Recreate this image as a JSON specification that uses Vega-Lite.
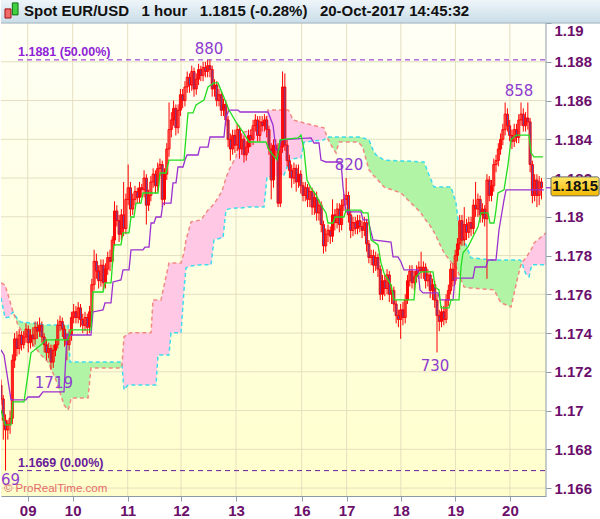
{
  "$schema": "https://vega.github.io/schema/vega-lite/v6.json",
  "width": 545,
  "height": 496,
  "padding": 0,
  "background": "#ffffff",
  "config": {"view": {"stroke": null}, "font": "Liberation Sans"},
  "datasets": {
    "one": [{}],
    "candles": [
      {"t":0,"o":1.1713,"h":1.1716,"l":1.1703,"c":1.1706},{"t":1,"o":1.1706,"h":1.1708,"l":1.1685,"c":1.1695},{"t":2,"o":1.1695,"h":1.1698,"l":1.1669,"c":1.1690},{"t":3,"o":1.1690,"h":1.1695,"l":1.1685,"c":1.1693},{"t":4,"o":1.1693,"h":1.1700,"l":1.1688,"c":1.1696},
      {"t":5,"o":1.1696,"h":1.1729,"l":1.1693,"c":1.1726},{"t":6,"o":1.1726,"h":1.1740,"l":1.1722,"c":1.1737},{"t":7,"o":1.1737,"h":1.1741,"l":1.1728,"c":1.1732},{"t":8,"o":1.1732,"h":1.1742,"l":1.1729,"c":1.1739},{"t":9,"o":1.1739,"h":1.1741,"l":1.1731,"c":1.1734},
      {"t":10,"o":1.1734,"h":1.1741,"l":1.1732,"c":1.1738},{"t":11,"o":1.1738,"h":1.1745,"l":1.1735,"c":1.1742},{"t":12,"o":1.1742,"h":1.1744,"l":1.1730,"c":1.1735},{"t":13,"o":1.1735,"h":1.1742,"l":1.1732,"c":1.1739},{"t":14,"o":1.1739,"h":1.1743,"l":1.1733,"c":1.1737},
      {"t":15,"o":1.1737,"h":1.1746,"l":1.1734,"c":1.1743},{"t":16,"o":1.1743,"h":1.1746,"l":1.1737,"c":1.1741},{"t":17,"o":1.1741,"h":1.1748,"l":1.1738,"c":1.1744},{"t":18,"o":1.1744,"h":1.1746,"l":1.1735,"c":1.1738},{"t":19,"o":1.1738,"h":1.1740,"l":1.1730,"c":1.1734},
      {"t":20,"o":1.1734,"h":1.1737,"l":1.1726,"c":1.1730},{"t":21,"o":1.1730,"h":1.1735,"l":1.1727,"c":1.1732},{"t":22,"o":1.1732,"h":1.1734,"l":1.1721,"c":1.1725},{"t":23,"o":1.1725,"h":1.1734,"l":1.1722,"c":1.1731},{"t":24,"o":1.1731,"h":1.1737,"l":1.1728,"c":1.1734},
      {"t":25,"o":1.1734,"h":1.1747,"l":1.1732,"c":1.1744},{"t":26,"o":1.1744,"h":1.1749,"l":1.1741,"c":1.1746},{"t":27,"o":1.1746,"h":1.1748,"l":1.1738,"c":1.1742},{"t":28,"o":1.1742,"h":1.1744,"l":1.1733,"c":1.1737},{"t":29,"o":1.1737,"h":1.1740,"l":1.1726,"c":1.1734},
      {"t":30,"o":1.1734,"h":1.1742,"l":1.1731,"c":1.1739},{"t":31,"o":1.1739,"h":1.1751,"l":1.1736,"c":1.1748},{"t":32,"o":1.1748,"h":1.1755,"l":1.1745,"c":1.1751},{"t":33,"o":1.1751,"h":1.1754,"l":1.1745,"c":1.1748},{"t":34,"o":1.1748,"h":1.1756,"l":1.1745,"c":1.1753},
      {"t":35,"o":1.1753,"h":1.1755,"l":1.1743,"c":1.1747},{"t":36,"o":1.1747,"h":1.1750,"l":1.1740,"c":1.1744},{"t":37,"o":1.1744,"h":1.1751,"l":1.1741,"c":1.1748},{"t":38,"o":1.1748,"h":1.1750,"l":1.1739,"c":1.1743},{"t":39,"o":1.1743,"h":1.1754,"l":1.1740,"c":1.1751},
      {"t":40,"o":1.1751,"h":1.1768,"l":1.1748,"c":1.1765},{"t":41,"o":1.1765,"h":1.1783,"l":1.1762,"c":1.1777},{"t":42,"o":1.1777,"h":1.1781,"l":1.1768,"c":1.1772},{"t":43,"o":1.1772,"h":1.1775,"l":1.1763,"c":1.1767},{"t":44,"o":1.1767,"h":1.1778,"l":1.1764,"c":1.1775},
      {"t":45,"o":1.1775,"h":1.1778,"l":1.1762,"c":1.1766},{"t":46,"o":1.1766,"h":1.1776,"l":1.1763,"c":1.1773},{"t":47,"o":1.1773,"h":1.1782,"l":1.1770,"c":1.1779},{"t":48,"o":1.1779,"h":1.1783,"l":1.1772,"c":1.1777},{"t":49,"o":1.1777,"h":1.1790,"l":1.1774,"c":1.1788},
      {"t":50,"o":1.1788,"h":1.1808,"l":1.1785,"c":1.1803},{"t":51,"o":1.1803,"h":1.1806,"l":1.1795,"c":1.1798},{"t":52,"o":1.1798,"h":1.1801,"l":1.1787,"c":1.1791},{"t":53,"o":1.1791,"h":1.1804,"l":1.1788,"c":1.1801},{"t":54,"o":1.1801,"h":1.1818,"l":1.1790,"c":1.1794},
      {"t":55,"o":1.1794,"h":1.1812,"l":1.1791,"c":1.1809},{"t":56,"o":1.1809,"h":1.1827,"l":1.1806,"c":1.1815},{"t":57,"o":1.1815,"h":1.1818,"l":1.1800,"c":1.1804},{"t":58,"o":1.1804,"h":1.1812,"l":1.1801,"c":1.1809},{"t":59,"o":1.1809,"h":1.1816,"l":1.1806,"c":1.1813},
      {"t":60,"o":1.1813,"h":1.1815,"l":1.1807,"c":1.1810},{"t":61,"o":1.1810,"h":1.1818,"l":1.1807,"c":1.1815},{"t":62,"o":1.1815,"h":1.1817,"l":1.1810,"c":1.1814},{"t":63,"o":1.1814,"h":1.1824,"l":1.1810,"c":1.1820},{"t":64,"o":1.1820,"h":1.1822,"l":1.1796,"c":1.1806},
      {"t":65,"o":1.1806,"h":1.1814,"l":1.1803,"c":1.1811},{"t":66,"o":1.1811,"h":1.1821,"l":1.1808,"c":1.1818},{"t":67,"o":1.1818,"h":1.1825,"l":1.1815,"c":1.1822},{"t":68,"o":1.1822,"h":1.1824,"l":1.1812,"c":1.1816},{"t":69,"o":1.1816,"h":1.1828,"l":1.1813,"c":1.1825},
      {"t":70,"o":1.1825,"h":1.1830,"l":1.1821,"c":1.1827},{"t":71,"o":1.1827,"h":1.1829,"l":1.1805,"c":1.1809},{"t":72,"o":1.1809,"h":1.1825,"l":1.1806,"c":1.1822},{"t":73,"o":1.1822,"h":1.1838,"l":1.1819,"c":1.1835},{"t":74,"o":1.1835,"h":1.1859,"l":1.1831,"c":1.1845},
      {"t":75,"o":1.1845,"h":1.1854,"l":1.1841,"c":1.1850},{"t":76,"o":1.1850,"h":1.1860,"l":1.1847,"c":1.1856},{"t":77,"o":1.1856,"h":1.1858,"l":1.1842,"c":1.1846},{"t":78,"o":1.1846,"h":1.1858,"l":1.1843,"c":1.1855},{"t":79,"o":1.1855,"h":1.1866,"l":1.1852,"c":1.1863},
      {"t":80,"o":1.1863,"h":1.1866,"l":1.1856,"c":1.1860},{"t":81,"o":1.1860,"h":1.1870,"l":1.1857,"c":1.1867},{"t":82,"o":1.1867,"h":1.1875,"l":1.1864,"c":1.1872},{"t":83,"o":1.1872,"h":1.1874,"l":1.1864,"c":1.1868},{"t":84,"o":1.1868,"h":1.1878,"l":1.1865,"c":1.1875},
      {"t":85,"o":1.1875,"h":1.1877,"l":1.1862,"c":1.1866},{"t":86,"o":1.1866,"h":1.1874,"l":1.1863,"c":1.1871},{"t":87,"o":1.1871,"h":1.1879,"l":1.1868,"c":1.1876},{"t":88,"o":1.1876,"h":1.1878,"l":1.1870,"c":1.1873},{"t":89,"o":1.1873,"h":1.1880,"l":1.1870,"c":1.1877},
      {"t":90,"o":1.1877,"h":1.1880,"l":1.1872,"c":1.1875},{"t":91,"o":1.1875,"h":1.1881,"l":1.1872,"c":1.1878},{"t":92,"o":1.1878,"h":1.1881,"l":1.1872,"c":1.1876},{"t":93,"o":1.1876,"h":1.1878,"l":1.1862,"c":1.1866},{"t":94,"o":1.1866,"h":1.1871,"l":1.1862,"c":1.1868},
      {"t":95,"o":1.1868,"h":1.1870,"l":1.1857,"c":1.1860},{"t":96,"o":1.1860,"h":1.1866,"l":1.1857,"c":1.1863},{"t":97,"o":1.1863,"h":1.1865,"l":1.1852,"c":1.1855},{"t":98,"o":1.1855,"h":1.1861,"l":1.1852,"c":1.1858},{"t":99,"o":1.1858,"h":1.1860,"l":1.1847,"c":1.1850},
      {"t":100,"o":1.1850,"h":1.1852,"l":1.1836,"c":1.1840},{"t":101,"o":1.1840,"h":1.1843,"l":1.1829,"c":1.1835},{"t":102,"o":1.1835,"h":1.1845,"l":1.1832,"c":1.1842},{"t":103,"o":1.1842,"h":1.1845,"l":1.1833,"c":1.1837},{"t":104,"o":1.1837,"h":1.1848,"l":1.1834,"c":1.1845},
      {"t":105,"o":1.1845,"h":1.1847,"l":1.1830,"c":1.1835},{"t":106,"o":1.1835,"h":1.1843,"l":1.1832,"c":1.1840},{"t":107,"o":1.1840,"h":1.1842,"l":1.1828,"c":1.1832},{"t":108,"o":1.1832,"h":1.1839,"l":1.1829,"c":1.1836},{"t":109,"o":1.1836,"h":1.1845,"l":1.1833,"c":1.1842},
      {"t":110,"o":1.1842,"h":1.1845,"l":1.1836,"c":1.1840},{"t":111,"o":1.1840,"h":1.1850,"l":1.1837,"c":1.1847},{"t":112,"o":1.1847,"h":1.1853,"l":1.1844,"c":1.1850},{"t":113,"o":1.1850,"h":1.1852,"l":1.1839,"c":1.1842},{"t":114,"o":1.1842,"h":1.1852,"l":1.1839,"c":1.1849},
      {"t":115,"o":1.1849,"h":1.1852,"l":1.1844,"c":1.1847},{"t":116,"o":1.1847,"h":1.1853,"l":1.1844,"c":1.1850},{"t":117,"o":1.1850,"h":1.1852,"l":1.1841,"c":1.1845},{"t":118,"o":1.1845,"h":1.1847,"l":1.1832,"c":1.1835},{"t":119,"o":1.1835,"h":1.1838,"l":1.1809,"c":1.1819},
      {"t":120,"o":1.1819,"h":1.1840,"l":1.1815,"c":1.1837},{"t":121,"o":1.1837,"h":1.1840,"l":1.1830,"c":1.1835},{"t":122,"o":1.1835,"h":1.1838,"l":1.1805,"c":1.1807},{"t":123,"o":1.1807,"h":1.1840,"l":1.1805,"c":1.1836},{"t":124,"o":1.1836,"h":1.1875,"l":1.1833,"c":1.1867},
      {"t":125,"o":1.1867,"h":1.1874,"l":1.1834,"c":1.1837},{"t":126,"o":1.1837,"h":1.1840,"l":1.1826,"c":1.1829},{"t":127,"o":1.1829,"h":1.1832,"l":1.1820,"c":1.1824},{"t":128,"o":1.1824,"h":1.1827,"l":1.1815,"c":1.1820},{"t":129,"o":1.1820,"h":1.1828,"l":1.1817,"c":1.1825},
      {"t":130,"o":1.1825,"h":1.1827,"l":1.1813,"c":1.1818},{"t":131,"o":1.1818,"h":1.1827,"l":1.1815,"c":1.1822},{"t":132,"o":1.1822,"h":1.1824,"l":1.1812,"c":1.1816},{"t":133,"o":1.1816,"h":1.1818,"l":1.1808,"c":1.1811},{"t":134,"o":1.1811,"h":1.1818,"l":1.1808,"c":1.1815},
      {"t":135,"o":1.1815,"h":1.1817,"l":1.1805,"c":1.1809},{"t":136,"o":1.1809,"h":1.1816,"l":1.1805,"c":1.1813},{"t":137,"o":1.1813,"h":1.1815,"l":1.1801,"c":1.1805},{"t":138,"o":1.1805,"h":1.1813,"l":1.1801,"c":1.1810},{"t":139,"o":1.1810,"h":1.1813,"l":1.1798,"c":1.1802},
      {"t":140,"o":1.1802,"h":1.1809,"l":1.1798,"c":1.1806},{"t":141,"o":1.1806,"h":1.1808,"l":1.1792,"c":1.1796},{"t":142,"o":1.1796,"h":1.1798,"l":1.1781,"c":1.1785},{"t":143,"o":1.1785,"h":1.1794,"l":1.1782,"c":1.1791},{"t":144,"o":1.1791,"h":1.1796,"l":1.1787,"c":1.1793},
      {"t":145,"o":1.1793,"h":1.1795,"l":1.1786,"c":1.1790},{"t":146,"o":1.1790,"h":1.1809,"l":1.1787,"c":1.1801},{"t":147,"o":1.1801,"h":1.1804,"l":1.1793,"c":1.1797},{"t":148,"o":1.1797,"h":1.1807,"l":1.1794,"c":1.1804},{"t":149,"o":1.1804,"h":1.1807,"l":1.1792,"c":1.1796},
      {"t":150,"o":1.1796,"h":1.1809,"l":1.1793,"c":1.1806},{"t":151,"o":1.1806,"h":1.1812,"l":1.1803,"c":1.1809},{"t":152,"o":1.1809,"h":1.1820,"l":1.1806,"c":1.1811},{"t":153,"o":1.1811,"h":1.1813,"l":1.1797,"c":1.1801},{"t":154,"o":1.1801,"h":1.1803,"l":1.1789,"c":1.1793},
      {"t":155,"o":1.1793,"h":1.1800,"l":1.1790,"c":1.1797},{"t":156,"o":1.1797,"h":1.1800,"l":1.1791,"c":1.1794},{"t":157,"o":1.1794,"h":1.1801,"l":1.1791,"c":1.1798},{"t":158,"o":1.1798,"h":1.1801,"l":1.1792,"c":1.1795},{"t":159,"o":1.1795,"h":1.1798,"l":1.1789,"c":1.1793},
      {"t":160,"o":1.1793,"h":1.1800,"l":1.1790,"c":1.1797},{"t":161,"o":1.1797,"h":1.1799,"l":1.1782,"c":1.1786},{"t":162,"o":1.1786,"h":1.1788,"l":1.1776,"c":1.1779},{"t":163,"o":1.1779,"h":1.1783,"l":1.1775,"c":1.1780},{"t":164,"o":1.1780,"h":1.1783,"l":1.1771,"c":1.1775},
      {"t":165,"o":1.1775,"h":1.1782,"l":1.1772,"c":1.1779},{"t":166,"o":1.1779,"h":1.1781,"l":1.1769,"c":1.1773},{"t":167,"o":1.1773,"h":1.1775,"l":1.1757,"c":1.1760},{"t":168,"o":1.1760,"h":1.1770,"l":1.1757,"c":1.1767},{"t":169,"o":1.1767,"h":1.1770,"l":1.1759,"c":1.1763},
      {"t":170,"o":1.1763,"h":1.1773,"l":1.1760,"c":1.1770},{"t":171,"o":1.1770,"h":1.1772,"l":1.1756,"c":1.1760},{"t":172,"o":1.1760,"h":1.1765,"l":1.1755,"c":1.1762},{"t":173,"o":1.1762,"h":1.1764,"l":1.1751,"c":1.1755},{"t":174,"o":1.1755,"h":1.1757,"l":1.1745,"c":1.1749},
      {"t":175,"o":1.1749,"h":1.1752,"l":1.1743,"c":1.1747},{"t":176,"o":1.1747,"h":1.1755,"l":1.1737,"c":1.1752},{"t":177,"o":1.1752,"h":1.1756,"l":1.1744,"c":1.1748},{"t":178,"o":1.1748,"h":1.1760,"l":1.1745,"c":1.1757},{"t":179,"o":1.1757,"h":1.1770,"l":1.1755,"c":1.1767},
      {"t":180,"o":1.1767,"h":1.1775,"l":1.1764,"c":1.1772},{"t":181,"o":1.1772,"h":1.1775,"l":1.1763,"c":1.1766},{"t":182,"o":1.1766,"h":1.1772,"l":1.1762,"c":1.1769},{"t":183,"o":1.1769,"h":1.1775,"l":1.1766,"c":1.1772},{"t":184,"o":1.1772,"h":1.1777,"l":1.1768,"c":1.1774},
      {"t":185,"o":1.1774,"h":1.1782,"l":1.1768,"c":1.1772},{"t":186,"o":1.1772,"h":1.1777,"l":1.1768,"c":1.1774},{"t":187,"o":1.1774,"h":1.1776,"l":1.1763,"c":1.1767},{"t":188,"o":1.1767,"h":1.1773,"l":1.1764,"c":1.1770},{"t":189,"o":1.1770,"h":1.1772,"l":1.1758,"c":1.1762},
      {"t":190,"o":1.1762,"h":1.1768,"l":1.1757,"c":1.1765},{"t":191,"o":1.1765,"h":1.1767,"l":1.1753,"c":1.1757},{"t":192,"o":1.1757,"h":1.1760,"l":1.1730,"c":1.1749},{"t":193,"o":1.1749,"h":1.1752,"l":1.1741,"c":1.1746},{"t":194,"o":1.1746,"h":1.1754,"l":1.1743,"c":1.1751},
      {"t":195,"o":1.1751,"h":1.1754,"l":1.1744,"c":1.1747},{"t":196,"o":1.1747,"h":1.1760,"l":1.1745,"c":1.1757},{"t":197,"o":1.1757,"h":1.1765,"l":1.1754,"c":1.1762},{"t":198,"o":1.1762,"h":1.1776,"l":1.1760,"c":1.1773},{"t":199,"o":1.1773,"h":1.1776,"l":1.1764,"c":1.1767},
      {"t":200,"o":1.1767,"h":1.1783,"l":1.1765,"c":1.1780},{"t":201,"o":1.1780,"h":1.1789,"l":1.1777,"c":1.1786},{"t":202,"o":1.1786,"h":1.1801,"l":1.1783,"c":1.1798},{"t":203,"o":1.1798,"h":1.1801,"l":1.1785,"c":1.1788},{"t":204,"o":1.1788,"h":1.1805,"l":1.1785,"c":1.1796},
      {"t":205,"o":1.1796,"h":1.1799,"l":1.1788,"c":1.1792},{"t":206,"o":1.1792,"h":1.1800,"l":1.1789,"c":1.1797},{"t":207,"o":1.1797,"h":1.1800,"l":1.1790,"c":1.1794},{"t":208,"o":1.1794,"h":1.1809,"l":1.1791,"c":1.1806},{"t":209,"o":1.1806,"h":1.1818,"l":1.1800,"c":1.1804},
      {"t":210,"o":1.1804,"h":1.1812,"l":1.1800,"c":1.1809},{"t":211,"o":1.1809,"h":1.1811,"l":1.1797,"c":1.1801},{"t":212,"o":1.1801,"h":1.1807,"l":1.1797,"c":1.1804},{"t":213,"o":1.1804,"h":1.1806,"l":1.1795,"c":1.1799},{"t":214,"o":1.1799,"h":1.1822,"l":1.1768,"c":1.1819},
      {"t":215,"o":1.1819,"h":1.1821,"l":1.1808,"c":1.1811},{"t":216,"o":1.1811,"h":1.1819,"l":1.1808,"c":1.1816},{"t":217,"o":1.1816,"h":1.1830,"l":1.1813,"c":1.1827},{"t":218,"o":1.1827,"h":1.1832,"l":1.1823,"c":1.1829},{"t":219,"o":1.1829,"h":1.1838,"l":1.1826,"c":1.1835},
      {"t":220,"o":1.1835,"h":1.1843,"l":1.1832,"c":1.1840},{"t":221,"o":1.1840,"h":1.1848,"l":1.1837,"c":1.1845},{"t":222,"o":1.1845,"h":1.1859,"l":1.1842,"c":1.1853},{"t":223,"o":1.1853,"h":1.1856,"l":1.1844,"c":1.1847},{"t":224,"o":1.1847,"h":1.1850,"l":1.1839,"c":1.1842},
      {"t":225,"o":1.1842,"h":1.1845,"l":1.1835,"c":1.1839},{"t":226,"o":1.1839,"h":1.1848,"l":1.1836,"c":1.1845},{"t":227,"o":1.1845,"h":1.1848,"l":1.1838,"c":1.1841},{"t":228,"o":1.1841,"h":1.1853,"l":1.1838,"c":1.1850},{"t":229,"o":1.1850,"h":1.1859,"l":1.1847,"c":1.1853},
      {"t":230,"o":1.1853,"h":1.1856,"l":1.1844,"c":1.1847},{"t":231,"o":1.1847,"h":1.1854,"l":1.1844,"c":1.1851},{"t":232,"o":1.1851,"h":1.1859,"l":1.1845,"c":1.1849},{"t":233,"o":1.1849,"h":1.1851,"l":1.1823,"c":1.1827},{"t":234,"o":1.1827,"h":1.1829,"l":1.1807,"c":1.1811},
      {"t":235,"o":1.1811,"h":1.1822,"l":1.1808,"c":1.1819},{"t":236,"o":1.1819,"h":1.1822,"l":1.1805,"c":1.1811},{"t":237,"o":1.1811,"h":1.1821,"l":1.1806,"c":1.1818},{"t":238,"o":1.1818,"h":1.1820,"l":1.1809,"c":1.1815}
    ],
    "cloud": [
      {"t":0,"a":1.17581,"b":1.17659,"g":"p1","k":"pink"},{"t":1.76,"a":1.17478,"b":1.17648,"g":"p1","k":"pink"},{"t":3.52,"a":1.17483,"b":1.17581,"g":"p1","k":"pink"},{"t":5.28,"a":1.17509,"b":1.17509,"g":"p1","k":"pink"},
      {"t":5.28,"a":1.17509,"b":1.17509,"g":"g1","k":"green"},{"t":7.49,"a":1.17468,"b":1.17442,"g":"g1","k":"green"},{"t":8.81,"a":1.17457,"b":1.17416,"g":"g1","k":"green"},{"t":13.21,"a":1.17452,"b":1.17354,"g":"g1","k":"green"},{"t":17.61,"a":1.17447,"b":1.17287,"g":"g1","k":"green"},{"t":18.94,"a":1.17442,"b":1.17272,"g":"g1","k":"green"},{"t":20.7,"a":1.17442,"b":1.17251,"g":"g1","k":"green"},{"t":24.22,"a":1.17442,"b":1.17158,"g":"g1","k":"green"},{"t":27.74,"a":1.17442,"b":1.17029,"g":"g1","k":"green"},{"t":29.5,"a":1.17442,"b":1.17003,"g":"g1","k":"green"},{"t":30.39,"a":1.17251,"b":1.17034,"g":"g1","k":"green"},{"t":30.83,"a":1.17251,"b":1.17065,"g":"g1","k":"green"},{"t":38.31,"a":1.17251,"b":1.17065,"g":"g1","k":"green"},{"t":39.63,"a":1.17251,"b":1.1722,"g":"g1","k":"green"},{"t":52.84,"a":1.17251,"b":1.1722,"g":"g1","k":"green"},{"t":53.28,"a":1.17236,"b":1.17236,"g":"g1","k":"green"},
      {"t":53.28,"a":1.17236,"b":1.17236,"g":"p2","k":"pink"},{"t":54.17,"a":1.17107,"b":1.1738,"g":"p2","k":"pink"},{"t":55.93,"a":1.17132,"b":1.17396,"g":"p2","k":"pink"},{"t":57.25,"a":1.17132,"b":1.17401,"g":"p2","k":"pink"},{"t":66.06,"a":1.17132,"b":1.17401,"g":"p2","k":"pink"},{"t":66.94,"a":1.17132,"b":1.17571,"g":"p2","k":"pink"},{"t":68.26,"a":1.17132,"b":1.17571,"g":"p2","k":"pink"},{"t":69.14,"a":1.17287,"b":1.17571,"g":"p2","k":"pink"},{"t":70.46,"a":1.17287,"b":1.17571,"g":"p2","k":"pink"},{"t":73.98,"a":1.17287,"b":1.17762,"g":"p2","k":"pink"},{"t":74.86,"a":1.17401,"b":1.17762,"g":"p2","k":"pink"},{"t":79.27,"a":1.17401,"b":1.17762,"g":"p2","k":"pink"},{"t":80.59,"a":1.17623,"b":1.17814,"g":"p2","k":"pink"},{"t":81.47,"a":1.17736,"b":1.17881,"g":"p2","k":"pink"},{"t":82.35,"a":1.17741,"b":1.17917,"g":"p2","k":"pink"},{"t":83.67,"a":1.17746,"b":1.17974,"g":"p2","k":"pink"},{"t":88.07,"a":1.17752,"b":1.17984,"g":"p2","k":"pink"},{"t":91.16,"a":1.17752,"b":1.18035,"g":"p2","k":"pink"},{"t":92.48,"a":1.17752,"b":1.18051,"g":"p2","k":"pink"},{"t":93.8,"a":1.17881,"b":1.18066,"g":"p2","k":"pink"},{"t":96.88,"a":1.17891,"b":1.18123,"g":"p2","k":"pink"},{"t":97.76,"a":1.17891,"b":1.18149,"g":"p2","k":"pink"},{"t":99.08,"a":1.18035,"b":1.18201,"g":"p2","k":"pink"},{"t":100.41,"a":1.18041,"b":1.18242,"g":"p2","k":"pink"},{"t":103.49,"a":1.18046,"b":1.18309,"g":"p2","k":"pink"},{"t":105.69,"a":1.18046,"b":1.18433,"g":"p2","k":"pink"},{"t":108.77,"a":1.18051,"b":1.18443,"g":"p2","k":"pink"},{"t":110.09,"a":1.18051,"b":1.18448,"g":"p2","k":"pink"},{"t":113.18,"a":1.18051,"b":1.18474,"g":"p2","k":"pink"},{"t":115.82,"a":1.18051,"b":1.18474,"g":"p2","k":"pink"},{"t":117.14,"a":1.18206,"b":1.18526,"g":"p2","k":"pink"},{"t":117.58,"a":1.18206,"b":1.18551,"g":"p2","k":"pink"},{"t":124.63,"a":1.18216,"b":1.18551,"g":"p2","k":"pink"},{"t":126.39,"a":1.18268,"b":1.18551,"g":"p2","k":"pink"},{"t":126.83,"a":1.18293,"b":1.18546,"g":"p2","k":"pink"},{"t":128.59,"a":1.18299,"b":1.185,"g":"p2","k":"pink"},{"t":132.11,"a":1.18304,"b":1.18489,"g":"p2","k":"pink"},{"t":133.43,"a":1.18386,"b":1.18484,"g":"p2","k":"pink"},{"t":142.24,"a":1.18397,"b":1.18459,"g":"p2","k":"pink"},{"t":143.56,"a":1.18412,"b":1.18412,"g":"p2","k":"pink"},
      {"t":143.56,"a":1.18412,"b":1.18412,"g":"g2","k":"green"},{"t":145.32,"a":1.18412,"b":1.18371,"g":"g2","k":"green"},{"t":147.53,"a":1.18412,"b":1.1833,"g":"g2","k":"green"},{"t":148.85,"a":1.18412,"b":1.18386,"g":"g2","k":"green"},{"t":157.21,"a":1.18412,"b":1.18386,"g":"g2","k":"green"},{"t":158.53,"a":1.18412,"b":1.18371,"g":"g2","k":"green"},{"t":159.41,"a":1.18407,"b":1.18355,"g":"g2","k":"green"},{"t":162.06,"a":1.18397,"b":1.18242,"g":"g2","k":"green"},{"t":163.82,"a":1.18345,"b":1.18216,"g":"g2","k":"green"},{"t":165.14,"a":1.18319,"b":1.18201,"g":"g2","k":"green"},{"t":168.66,"a":1.18293,"b":1.18154,"g":"g2","k":"green"},{"t":176.15,"a":1.18288,"b":1.18123,"g":"g2","k":"green"},{"t":179.23,"a":1.18288,"b":1.18087,"g":"g2","k":"green"},{"t":184.96,"a":1.18283,"b":1.1802,"g":"g2","k":"green"},{"t":186.28,"a":1.18283,"b":1.17994,"g":"g2","k":"green"},{"t":188.48,"a":1.18216,"b":1.17963,"g":"g2","k":"green"},{"t":190.68,"a":1.18154,"b":1.17922,"g":"g2","k":"green"},{"t":195.09,"a":1.18154,"b":1.17814,"g":"g2","k":"green"},{"t":198.17,"a":1.18154,"b":1.17767,"g":"g2","k":"green"},{"t":200.37,"a":1.18071,"b":1.17741,"g":"g2","k":"green"},{"t":201.25,"a":1.17984,"b":1.17716,"g":"g2","k":"green"},{"t":203.89,"a":1.17881,"b":1.17638,"g":"g2","k":"green"},{"t":205.65,"a":1.17829,"b":1.17633,"g":"g2","k":"green"},{"t":206.98,"a":1.17788,"b":1.17633,"g":"g2","k":"green"},{"t":217.11,"a":1.17777,"b":1.17623,"g":"g2","k":"green"},{"t":220.19,"a":1.17777,"b":1.17556,"g":"g2","k":"green"},{"t":224.59,"a":1.17777,"b":1.17535,"g":"g2","k":"green"},{"t":226.79,"a":1.17777,"b":1.17648,"g":"g2","k":"green"},{"t":228.55,"a":1.17777,"b":1.17736,"g":"g2","k":"green"},{"t":229.43,"a":1.17767,"b":1.17767,"g":"g2","k":"green"},
      {"t":229.43,"a":1.17767,"b":1.17767,"g":"p3","k":"pink"},{"t":230.32,"a":1.17726,"b":1.17777,"g":"p3","k":"pink"},{"t":231.2,"a":1.17705,"b":1.17788,"g":"p3","k":"pink"},{"t":232.52,"a":1.1769,"b":1.17814,"g":"p3","k":"pink"},{"t":233.4,"a":1.17736,"b":1.17829,"g":"p3","k":"pink"},{"t":233.84,"a":1.17752,"b":1.17839,"g":"p3","k":"pink"},{"t":234.72,"a":1.17752,"b":1.17865,"g":"p3","k":"pink"},{"t":240,"a":1.17752,"b":1.17917,"g":"p3","k":"pink"}
    ],
    "tenkan": [
      {"t":0,"p":1.17003},{"t":1.76,"p":1.16926},{"t":4.4,"p":1.16926},{"t":5.28,"p":1.17045},{"t":10.13,"p":1.17045},{"t":13.21,"p":1.17298},{"t":17.61,"p":1.17339},{"t":19.82,"p":1.17365},{"t":29.5,"p":1.17365},{"t":30.83,"p":1.17416},{"t":39.63,"p":1.17416},{"t":40.51,"p":1.17612},{"t":44.92,"p":1.17612},{"t":45.8,"p":1.17659},{"t":48.44,"p":1.17659},{"t":49.76,"p":1.17855},{"t":52.84,"p":1.17855},{"t":53.73,"p":1.17917},{"t":56.37,"p":1.17917},{"t":57.25,"p":1.17999},{"t":58.57,"p":1.17999},{"t":59.45,"p":1.18071},{"t":61.65,"p":1.18071},{"t":62.53,"p":1.18123},{"t":69.14,"p":1.18123},{"t":70.02,"p":1.18226},{"t":72.66,"p":1.18226},{"t":73.98,"p":1.18293},{"t":80.59,"p":1.18293},{"t":82.35,"p":1.18536},{"t":84.55,"p":1.18536},{"t":85.87,"p":1.18577},{"t":89.4,"p":1.18603},{"t":91.16,"p":1.1867},{"t":93.8,"p":1.18691},{"t":95.56,"p":1.18691},{"t":97.76,"p":1.18629},{"t":100.41,"p":1.18551},{"t":103.49,"p":1.18489},{"t":106.57,"p":1.18438},{"t":109.21,"p":1.18386},{"t":116.7,"p":1.18386},{"t":118.02,"p":1.18345},{"t":121.54,"p":1.18293},{"t":122.86,"p":1.18397},{"t":130.79,"p":1.18407},{"t":132.11,"p":1.18422},{"t":133.43,"p":1.18345},{"t":134.75,"p":1.1819},{"t":136.52,"p":1.18149},{"t":138.72,"p":1.18113},{"t":140.92,"p":1.18061},{"t":143.12,"p":1.1802},{"t":144,"p":1.17968},{"t":146.2,"p":1.17968},{"t":147.08,"p":1.17999},{"t":151.05,"p":1.17999},{"t":151.93,"p":1.18035},{"t":158.53,"p":1.18035},{"t":159.41,"p":1.1802},{"t":161.62,"p":1.1802},{"t":162.94,"p":1.17881},{"t":166.02,"p":1.17855},{"t":167.34,"p":1.17762},{"t":168.66,"p":1.1771},{"t":171.75,"p":1.17648},{"t":173.07,"p":1.17571},{"t":181.87,"p":1.17571},{"t":182.75,"p":1.1769},{"t":184.96,"p":1.17716},{"t":190.24,"p":1.17716},{"t":191.12,"p":1.17638},{"t":192.88,"p":1.17623},{"t":193.76,"p":1.1753},{"t":197.29,"p":1.1753},{"t":198.17,"p":1.17571},{"t":201.69,"p":1.17571},{"t":202.57,"p":1.17741},{"t":203.45,"p":1.17814},{"t":205.65,"p":1.17845},{"t":210.06,"p":1.17948},{"t":211.38,"p":1.1802},{"t":214.46,"p":1.1802},{"t":215.34,"p":1.17968},{"t":217.11,"p":1.17968},{"t":217.98,"p":1.18035},{"t":218.86,"p":1.18123},{"t":221.51,"p":1.18139},{"t":223.27,"p":1.18268},{"t":224.59,"p":1.18397},{"t":226.79,"p":1.18422},{"t":232.52,"p":1.18422},{"t":233.4,"p":1.1833},{"t":234.72,"p":1.18309},{"t":238.68,"p":1.18309}
    ],
    "kijun": [
      {"t":0,"p":1.17313},{"t":1.32,"p":1.17287},{"t":4.4,"p":1.17055},{"t":11.01,"p":1.17055},{"t":11.89,"p":1.1707},{"t":16.73,"p":1.1707},{"t":18.5,"p":1.17096},{"t":27.74,"p":1.17096},{"t":29.06,"p":1.1739},{"t":39.63,"p":1.1739},{"t":40.51,"p":1.17509},{"t":44.92,"p":1.17519},{"t":45.8,"p":1.17556},{"t":48.44,"p":1.17556},{"t":49.32,"p":1.17664},{"t":52.84,"p":1.17674},{"t":53.73,"p":1.17726},{"t":56.37,"p":1.17726},{"t":57.25,"p":1.17829},{"t":62.53,"p":1.17829},{"t":63.41,"p":1.17844},{"t":65.18,"p":1.17844},{"t":66.06,"p":1.17968},{"t":67.38,"p":1.17968},{"t":68.26,"p":1.17999},{"t":70.46,"p":1.17999},{"t":71.34,"p":1.18071},{"t":74.86,"p":1.18071},{"t":75.74,"p":1.18175},{"t":77.07,"p":1.18175},{"t":77.95,"p":1.18257},{"t":80.15,"p":1.18257},{"t":81.03,"p":1.18293},{"t":81.91,"p":1.18319},{"t":86.75,"p":1.18319},{"t":87.63,"p":1.1836},{"t":91.16,"p":1.1836},{"t":92.04,"p":1.18412},{"t":98.2,"p":1.18412},{"t":99.08,"p":1.18515},{"t":100.41,"p":1.18551},{"t":104.37,"p":1.18551},{"t":105.25,"p":1.18541},{"t":117.58,"p":1.18541},{"t":119.78,"p":1.18474},{"t":121.1,"p":1.18345},{"t":122.42,"p":1.18345},{"t":123.3,"p":1.18397},{"t":136.52,"p":1.18407},{"t":137.84,"p":1.18381},{"t":140.04,"p":1.18381},{"t":140.92,"p":1.18293},{"t":143.12,"p":1.18283},{"t":149.73,"p":1.18283},{"t":150.61,"p":1.18154},{"t":151.93,"p":1.18025},{"t":158.53,"p":1.18025},{"t":159.41,"p":1.17984},{"t":161.62,"p":1.17984},{"t":163.82,"p":1.17881},{"t":171.75,"p":1.1787},{"t":172.63,"p":1.17793},{"t":174.83,"p":1.17793},{"t":176.15,"p":1.17767},{"t":177.47,"p":1.17726},{"t":183.64,"p":1.17726},{"t":184.52,"p":1.17623},{"t":185.84,"p":1.17607},{"t":192.44,"p":1.17607},{"t":193.32,"p":1.17571},{"t":199.05,"p":1.17571},{"t":199.93,"p":1.17684},{"t":207.86,"p":1.17684},{"t":208.74,"p":1.17741},{"t":213.58,"p":1.17741},{"t":214.46,"p":1.17777},{"t":217.98,"p":1.17777},{"t":219.3,"p":1.17932},{"t":221.51,"p":1.18087},{"t":222.39,"p":1.18139},{"t":239.12,"p":1.18139}
    ],
    "ygrid": [{"v":1.166},{"v":1.168},{"v":1.17},{"v":1.172},{"v":1.174},{"v":1.176},{"v":1.178},{"v":1.18},{"v":1.182},{"v":1.184},{"v":1.186},{"v":1.188}],
    "xgrid": [{"v":11.76},{"v":31.57},{"v":55.8},{"v":79.27},{"v":103.5},{"v":132.4},{"v":152.2},{"v":176.1},{"v":200.1},{"v":224.1}],
    "fib": [{"p":1.1881,"s":"1.1881 (50.00%)"},{"p":1.1669,"s":"1.1669 (0.00%)"}],
    "ann": [{"t":91.6,"p":1.18866,"s":"880"},{"t":228.1,"p":1.18649,"s":"858"},{"t":153.25,"p":1.18268,"s":"820"},{"t":191.1,"p":1.1723,"s":"730"},{"t":23.3,"p":1.17143,"s":"1719"},{"t":0,"p":1.16642,"s":"1669"}]
  },
  "layer": [
    {
      "data": {"name": "one"},
      "mark": {"type": "rect", "fill": {"gradient": "linear", "x1": 0, "y1": 0, "x2": 0, "y2": 1, "stops": [{"offset": 0, "color": "#fffff6"}, {"offset": 1, "color": "#ffffcc"}]}},
      "encoding": {
        "x": {"datum": 0, "type": "quantitative", "axis": {"title": null}},
        "x2": {"datum": 240},
        "y": {"datum": 1.16559, "type": "quantitative", "axis": {"title": null}},
        "y2": {"datum": 1.19}
      }
    },
    {
      "data": {"name": "ygrid"},
      "mark": {"type": "rule", "color": "#e4dfbf", "strokeWidth": 1},
      "encoding": {
        "y": {"field": "v", "type": "quantitative", "axis": {"title": null}},
        "x": {"datum": 0, "type": "quantitative", "axis": {"title": null}},
        "x2": {"datum": 240}
      }
    },
    {
      "data": {"name": "xgrid"},
      "mark": {"type": "rule", "color": "#e4dfbf", "strokeWidth": 1},
      "encoding": {
        "x": {"field": "v", "type": "quantitative", "axis": {"title": null}},
        "y": {"datum": 1.16559, "type": "quantitative", "axis": {"title": null}},
        "y2": {"datum": 1.19}
      }
    },
    {
      "data": {"name": "cloud"},
      "mark": {"type": "area", "clip": true, "opacity": 1},
      "encoding": {
        "x": {"field": "t", "type": "quantitative", "axis": {"title": null}},
        "y": {"field": "a", "type": "quantitative", "axis": {"title": null}, "stack": null},
        "y2": {"field": "b"},
        "detail": {"field": "g"},
        "color": {"field": "k", "type": "nominal", "scale": {"domain": ["pink", "green"], "range": ["#ffc9e6", "#b2f4a6"]}, "legend": null}
      }
    },
    {
      "data": {"name": "cloud"},
      "mark": {"type": "line", "clip": true, "color": "#3fdcec", "strokeWidth": 1.5, "strokeDash": [4, 3]},
      "encoding": {
        "x": {"field": "t", "type": "quantitative", "axis": {"title": null}},
        "y": {"field": "a", "type": "quantitative", "axis": {"title": null}}
      }
    },
    {
      "data": {"name": "cloud"},
      "mark": {"type": "line", "clip": true, "color": "#f08a80", "strokeWidth": 1.5, "strokeDash": [4, 3]},
      "encoding": {
        "x": {"field": "t", "type": "quantitative", "axis": {"title": null}},
        "y": {"field": "b", "type": "quantitative", "axis": {"title": null}}
      }
    },
    {
      "data": {"name": "fib"},
      "mark": {"type": "rule", "strokeWidth": 1, "strokeDash": [5, 4]},
      "encoding": {
        "y": {"field": "p", "type": "quantitative", "axis": {"title": null}},
        "x": {"datum": 7.5, "type": "quantitative", "axis": {"title": null}},
        "x2": {"datum": 240},
        "color": {"condition": {"test": "datum.p > 1.18", "value": "#8f1fd6"}, "value": "#6a1b9a"}
      }
    },
    {
      "data": {"name": "candles"},
      "mark": {"type": "rule", "clip": true, "color": "#ff0000", "strokeWidth": 1},
      "encoding": {
        "x": {"field": "t", "type": "quantitative", "axis": {"title": null}},
        "y": {"field": "l", "type": "quantitative", "axis": {"title": null}},
        "y2": {"field": "h"}
      }
    },
    {
      "data": {"name": "candles"},
      "mark": {"type": "bar", "clip": true, "size": 2, "stroke": "#ff0000", "strokeWidth": 1},
      "encoding": {
        "x": {
          "field": "t", "type": "quantitative",
          "scale": {"domain": [0, 240], "nice": false, "zero": false, "padding": 0},
          "axis": {
            "title": null, "grid": false,
            "values": [11.76, 31.57, 55.8, 79.27, 103.5, 132.4, 152.2, 176.1, 200.1, 224.1],
            "labelExpr": "datum.value < 20 ? '09' : datum.value < 40 ? '10' : datum.value < 60 ? '11' : datum.value < 90 ? '12' : datum.value < 120 ? '13' : datum.value < 140 ? '16' : datum.value < 160 ? '17' : datum.value < 190 ? '18' : datum.value < 210 ? '19' : '20'",
            "domainColor": "#8c9ba6", "tickColor": "#8c9ba6", "tickSize": 5,
            "labelFont": "Liberation Sans", "labelFontWeight": "bold", "labelFontSize": 15,
            "labelColor": "#6b0f6b", "labelPadding": 2, "labelFlush": false, "labelOverlap": false
          }
        },
        "y": {
          "field": "o", "type": "quantitative",
          "scale": {"domain": [1.16559, 1.19119], "nice": false, "zero": false, "padding": 0},
          "axis": {
            "title": null, "orient": "right", "grid": false, "domain": false,
            "values": [1.166, 1.167, 1.168, 1.169, 1.17, 1.171, 1.172, 1.173, 1.174, 1.175, 1.176, 1.177, 1.178, 1.179, 1.18, 1.181, 1.182, 1.183, 1.184, 1.185, 1.186, 1.187, 1.188, 1.189, 1.19],
            "labelExpr": "round(datum.value * 1000) % 2 == 0 ? format(datum.value, '.4~r') : ''",
            "tickColor": "#8c9ba6", "tickSize": 5,
            "labelFont": "Liberation Sans", "labelFontWeight": "bold", "labelFontSize": 15,
            "labelColor": "#6b0f6b", "labelPadding": 3, "labelFlush": false, "labelOverlap": false,
            "labelBaseline": {"condition": {"test": "datum.value > 1.1895", "value": "top"}, "value": "middle"}
          }
        },
        "y2": {"field": "c"},
        "fill": {"condition": {"test": "datum.c < datum.o", "value": "#5b4fae"}, "value": "rgba(0,0,0,0)"}
      }
    },
    {
      "data": {"name": "kijun"},
      "mark": {"type": "line", "clip": true, "color": "#9b30d0", "strokeWidth": 1.3},
      "encoding": {
        "x": {"field": "t", "type": "quantitative", "axis": {"title": null}},
        "y": {"field": "p", "type": "quantitative", "axis": {"title": null}}
      }
    },
    {
      "data": {"name": "tenkan"},
      "mark": {"type": "line", "clip": true, "color": "#22dd22", "strokeWidth": 1.3},
      "encoding": {
        "x": {"field": "t", "type": "quantitative", "axis": {"title": null}},
        "y": {"field": "p", "type": "quantitative", "axis": {"title": null}}
      }
    },
    {
      "data": {"name": "fib"},
      "mark": {"type": "text", "align": "left", "baseline": "middle", "dy": -8, "font": "Liberation Sans", "fontWeight": "bold", "fontSize": 12.5},
      "encoding": {
        "y": {"field": "p", "type": "quantitative", "axis": {"title": null}},
        "x": {"datum": 7.5, "type": "quantitative", "axis": {"title": null}},
        "text": {"field": "s"},
        "color": {"condition": {"test": "datum.p > 1.18", "value": "#8f1fd6"}, "value": "#6a1b9a"}
      }
    },
    {
      "data": {"name": "ann"},
      "mark": {"type": "text", "clip": true, "align": "center", "baseline": "middle", "font": "DejaVu Sans", "fontSize": 15, "color": "#8e3ccf"},
      "encoding": {
        "x": {"field": "t", "type": "quantitative", "axis": {"title": null}},
        "y": {"field": "p", "type": "quantitative", "axis": {"title": null}},
        "text": {"field": "s"}
      }
    },
    {
      "data": {"name": "one"},
      "mark": {"type": "text", "align": "left", "baseline": "middle", "font": "Liberation Sans", "fontSize": 11.5, "color": "#e46a6a", "text": "© ProRealTime.com"},
      "encoding": {
        "x": {"datum": 1.3, "type": "quantitative", "axis": {"title": null}},
        "y": {"datum": 1.16596, "type": "quantitative", "axis": {"title": null}}
      }
    },
    {
      "data": {"name": "one"},
      "mark": {"type": "rule", "color": "#8c9ba6", "strokeWidth": 1},
      "encoding": {
        "x": {"datum": 240, "type": "quantitative", "axis": {"title": null}},
        "y": {"datum": 1.16559, "type": "quantitative", "axis": {"title": null}},
        "y2": {"datum": 1.19}
      }
    },
    {
      "data": {"name": "one"},
      "mark": {"type": "rect", "clip": false, "fill": {"gradient": "linear", "x1": 0, "y1": 0, "x2": 0, "y2": 1, "stops": [{"offset": 0, "color": "#eef5f9"}, {"offset": 1, "color": "#c9dde8"}]}},
      "encoding": {
        "x": {"datum": 0, "type": "quantitative", "axis": {"title": null}},
        "x2": {"datum": 264.2},
        "y": {"datum": 1.19, "type": "quantitative", "axis": {"title": null}},
        "y2": {"datum": 1.19119}
      }
    },
    {
      "data": {"name": "one"},
      "mark": {"type": "rule", "clip": false, "color": "#9fb1bc", "strokeWidth": 1},
      "encoding": {
        "x": {"datum": 0, "type": "quantitative", "axis": {"title": null}},
        "x2": {"datum": 264.2},
        "y": {"datum": 1.19, "type": "quantitative", "axis": {"title": null}}
      }
    },
    {
      "data": {"name": "one"},
      "mark": {"type": "text", "align": "left", "baseline": "middle", "font": "Liberation Sans", "fontWeight": "bold", "fontSize": 15, "color": "#111111", "text": "Spot EUR/USD\u00a0\u00a0 1 hour\u00a0\u00a0 1.1815 (-0.28%)\u00a0\u00a0 20-Oct-2017 14:45:32"},
      "encoding": {
        "x": {"datum": 10.13, "type": "quantitative", "axis": {"title": null}},
        "y": {"datum": 1.19062, "type": "quantitative", "axis": {"title": null}}
      }
    },
    {
      "data": {"name": "one"},
      "mark": {"type": "rect", "fill": "#f06a6a", "stroke": "#a01010", "strokeWidth": 1},
      "encoding": {
        "x": {"datum": 1.76, "type": "quantitative", "axis": {"title": null}},
        "x2": {"datum": 4.4},
        "y": {"datum": 1.19026, "type": "quantitative", "axis": {"title": null}},
        "y2": {"datum": 1.19073}
      }
    },
    {
      "data": {"name": "one"},
      "mark": {"type": "rect", "fill": "#40d040", "stroke": "#107010", "strokeWidth": 1},
      "encoding": {
        "x": {"datum": 5.0, "type": "quantitative", "axis": {"title": null}},
        "x2": {"datum": 7.5},
        "y": {"datum": 1.19042, "type": "quantitative", "axis": {"title": null}},
        "y2": {"datum": 1.19104}
      }
    },
    {
      "data": {"name": "one"},
      "mark": {"type": "rule", "clip": false, "color": "#9b30d0", "strokeWidth": 1.3},
      "encoding": {
        "x": {"datum": 240, "type": "quantitative", "axis": {"title": null}},
        "x2": {"datum": 242.3},
        "y": {"datum": 1.1815, "type": "quantitative", "axis": {"title": null}}
      }
    },
    {
      "data": {"name": "one"},
      "mark": {"type": "rect", "clip": false, "cornerRadius": 2, "stroke": "#6a6a6a", "strokeWidth": 1, "fill": {"gradient": "linear", "x1": 0, "y1": 0, "x2": 0, "y2": 1, "stops": [{"offset": 0, "color": "#ffe866"}, {"offset": 1, "color": "#f2b800"}]}},
      "encoding": {
        "x": {"datum": 242.2, "type": "quantitative", "axis": {"title": null}},
        "x2": {"datum": 263.4},
        "y": {"datum": 1.18108, "type": "quantitative", "axis": {"title": null}},
        "y2": {"datum": 1.18206}
      }
    },
    {
      "data": {"name": "one"},
      "mark": {"type": "text", "clip": false, "align": "center", "baseline": "middle", "font": "Liberation Sans", "fontWeight": "bold", "fontSize": 15, "color": "#111111", "text": "1.1815"},
      "encoding": {
        "x": {"datum": 252.8, "type": "quantitative", "axis": {"title": null}},
        "y": {"datum": 1.18157, "type": "quantitative", "axis": {"title": null}}
      }
    }
  ]
}
